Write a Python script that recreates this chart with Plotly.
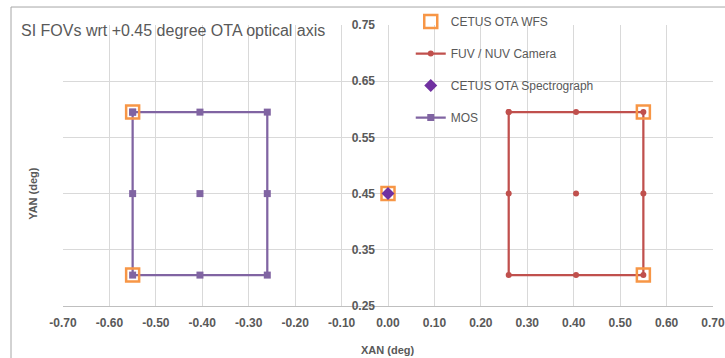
import plotly.graph_objects as go

# Field-of-view corner / edge / centre points (degrees)
mos_x = [-0.55, -0.405, -0.26, -0.26, -0.26, -0.405, -0.55, -0.55, -0.55, None, -0.405]
mos_y = [0.595, 0.595, 0.595, 0.45, 0.305, 0.305, 0.305, 0.45, 0.595, None, 0.45]

fuv_x = [0.26, 0.405, 0.55, 0.55, 0.55, 0.405, 0.26, 0.26, 0.26, None, 0.405]
fuv_y = [0.595, 0.595, 0.595, 0.45, 0.305, 0.305, 0.305, 0.45, 0.595, None, 0.45]

wfs_x = [-0.55, -0.55, 0.0, 0.55, 0.55]
wfs_y = [0.595, 0.305, 0.45, 0.595, 0.305]

spec_x = [0.0]
spec_y = [0.45]

x_ticks = [-0.7, -0.6, -0.5, -0.4, -0.3, -0.2, -0.1, 0.0, 0.1, 0.2, 0.3, 0.4, 0.5, 0.6, 0.7]
y_ticks = [0.25, 0.35, 0.45, 0.55, 0.65, 0.75]

TXT = "#595959"
GRID = "#D9D9D9"
TICKFONT = dict(size=12, color=TXT, family="Liberation Sans, Arial", weight="bold")

fig = go.Figure()

fig.add_trace(go.Scatter(
    x=mos_x, y=mos_y, mode="lines+markers", name="MOS",
    line=dict(color="#8064A2", width=2.25),
    marker=dict(symbol="square", size=7, color="#8064A2"),
    connectgaps=False, legendgroup="d", legendrank=4,
))
fig.add_trace(go.Scatter(
    x=fuv_x, y=fuv_y, mode="lines+markers", name="FUV / NUV Camera",
    line=dict(color="#C0504D", width=2.25),
    marker=dict(symbol="circle", size=6, color="#C0504D"),
    connectgaps=False, legendgroup="b", legendrank=2,
))
fig.add_trace(go.Scatter(
    x=wfs_x, y=wfs_y, mode="markers", name="CETUS OTA WFS",
    marker=dict(symbol="square-open", size=13, color="#F79646",
                line=dict(width=2.5, color="#F79646")),
    legendgroup="a", legendrank=1,
))
fig.add_trace(go.Scatter(
    x=spec_x, y=spec_y, mode="markers", name="CETUS OTA Spectrograph",
    marker=dict(symbol="diamond", size=10, color="#7030A0"),
    legendgroup="c", legendrank=3,
))

fig.update_layout(
    width=725, height=358,
    margin=dict(l=63, r=12, t=25, b=52, autoexpand=False),
    paper_bgcolor="white", plot_bgcolor="white",
    font=dict(family="Liberation Sans, Arial, sans-serif", color=TXT),
    showlegend=True,
    legend=dict(
        x=0.535, y=1.064, xanchor="left", yanchor="top",
        bgcolor="rgba(0,0,0,0)", font=dict(size=12, color=TXT),
        traceorder="grouped", tracegroupgap=13, itemwidth=30,
    ),
    xaxis=dict(
        range=[-0.7, 0.7], tickvals=x_ticks,
        ticktext=[f"{v:.2f}" for v in x_ticks],
        showgrid=True, gridcolor=GRID, gridwidth=1,
        zeroline=False, showline=True, linecolor="#BFBFBF", linewidth=1,
        ticks="", tickfont=TICKFONT, ticklabelstandoff=6,
        ticklabeloverflow="allow",
    ),
    yaxis=dict(
        range=[0.25, 0.75], tickvals=y_ticks,
        ticktext=[f"{v:.2f}" for v in y_ticks],
        showgrid=True, gridcolor=GRID, gridwidth=1,
        zeroline=False, showline=False,
        anchor="free", position=0.5, side="left",
        ticks="", tickfont=TICKFONT, ticklabelstandoff=13,
    ),
    annotations=[
        dict(text="SI FOVs wrt +0.45 degree OTA optical axis", xref="paper", yref="paper",
             x=-0.067, y=0.982, xanchor="left", yanchor="middle", showarrow=False,
             font=dict(size=16, color=TXT)),
        dict(text="<b>YAN (deg)</b>", xref="paper", yref="paper",
             x=-0.046, y=0.4, xanchor="center", yanchor="middle", textangle=-90,
             showarrow=False, font=dict(size=11, color=TXT)),
        dict(text="<b>XAN (deg)</b>", xref="paper", yref="paper",
             x=0.5, y=-0.157, xanchor="center", yanchor="middle",
             showarrow=False, font=dict(size=11, color=TXT)),
    ],
    shapes=[
        dict(type="line", xref="paper", yref="paper", x0=-0.08, x1=1.05, y0=1.064, y1=1.064,
             line=dict(color="#A6A6A6", width=1)),
        dict(type="line", xref="paper", yref="paper", x0=-0.08, x1=-0.08, y0=1.064, y1=-0.25,
             line=dict(color="#A6A6A6", width=1)),
    ],
)

fig.write_html("out.html")
